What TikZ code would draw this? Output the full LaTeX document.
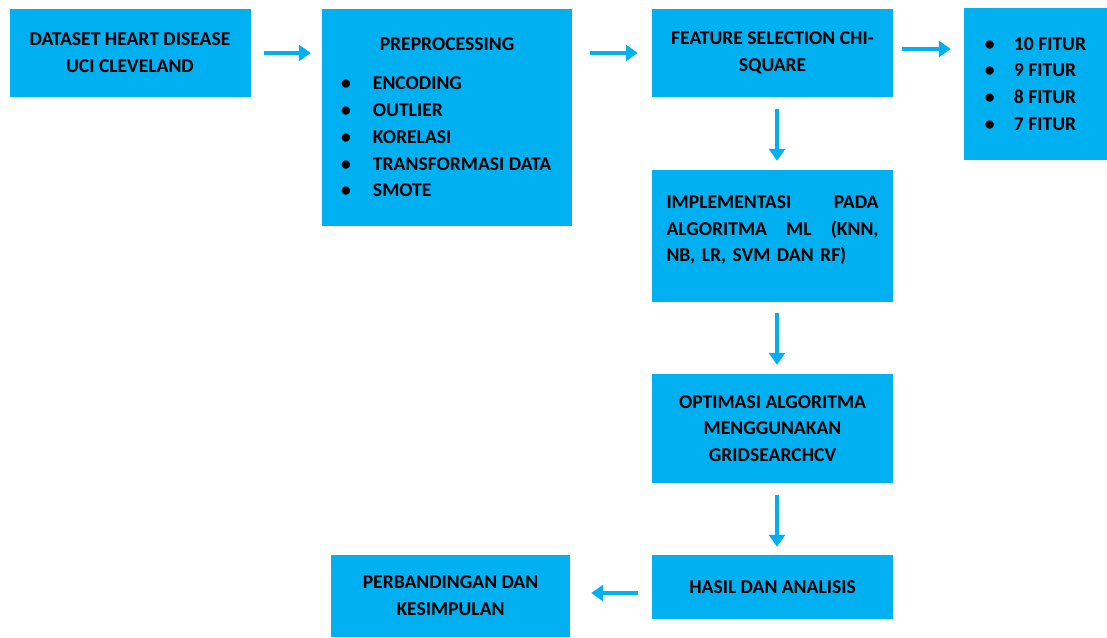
\documentclass[tikz,border=0pt]{standalone}
\usepackage{fontspec}
\setmainfont{Carlito}
\usetikzlibrary{arrows.meta, positioning}
\definecolor{flowBlue}{HTML}{00B0F0}
\newcommand{\itm}[1][32pt]{\makebox[#1][l]{\textbullet}}

\begin{document}
\begin{tikzpicture}[
  x=1pt, y=-1pt,
  box/.style={fill=flowBlue, inner sep=0pt, align=center, minimum width=241pt,
    font=\fontsize{19.6}{26.8}\selectfont\bfseries},
  arr/.style={-{Triangle[length=12pt, width=16pt]}, line width=4pt, draw=flowBlue}
]
\fill[white] (0,0) rectangle (1107,637);
\useasboundingbox (0,0) rectangle (1107,637);
\node[box, minimum height=88pt] (data) at (130,53) {DATASET HEART DISEASE\\UCI CLEVELAND};
\node[box, minimum width=250pt, minimum height=217pt, align=left] (prep) at (447,117.5)
  {\makebox[212pt][c]{PREPROCESSING}\\[12pt]\itm ENCODING\\\itm OUTLIER\\\itm KORELASI\\\itm TRANSFORMASI DATA\\\itm SMOTE};
\node[box, minimum height=88pt] (feat) at (772.5,53) {FEATURE SELECTION CHI-\\SQUARE};
\node[box, minimum width=143pt, minimum height=152pt, align=left] (fitur) at (1035.5,84)
  {\itm[29pt]10 FITUR\\\itm[29pt]9 FITUR\\\itm[29pt]8 FITUR\\\itm[29pt]7 FITUR};
\node[box, minimum height=132pt, text width=212pt, align=left] (impl) at (772.5,236)
  {IMPLEMENTASI\hfill PADA\\ALGORITMA\hfill ML\hfill (KNN,\\NB, LR, SVM DAN RF)\\[-12pt]\mbox{}};
\node[box, minimum height=109pt] (optim) at (772.5,428.5) {OPTIMASI ALGORITMA\\MENGGUNAKAN\\GRIDSEARCHCV};
\node[box, minimum height=64pt] (hasil) at (772.5,587) {HASIL DAN ANALISIS};
\node[box, minimum width=239pt, minimum height=82pt] (banding) at (450.5,596) {PERBANDINGAN DAN\\KESIMPULAN};
% arrows
\draw[arr, shorten <=13pt, shorten >=11pt] (data.east) -- (data.east -| prep.west);
\draw[arr, shorten <=18pt, shorten >=14pt] (prep.east |- feat.west) -- (feat.west);
\draw[arr, shorten <=9pt, shorten >=13pt] ([yshift=4pt]feat.east) -- ([yshift=4pt]feat.east -| fitur.west);
\draw[arr, shorten <=12pt, shorten >=9pt] ([xshift=4.5pt]feat.south) -- ([xshift=4.5pt]impl.north);
\draw[arr, shorten <=11pt, shorten >=9pt] ([xshift=4.5pt]impl.south) -- ([xshift=4.5pt]optim.north);
\draw[arr, shorten <=12pt, shorten >=8pt] ([xshift=4.5pt]optim.south) -- ([xshift=4.5pt]hasil.north);
\draw[arr, shorten <=14pt, shorten >=21pt] ([yshift=-6pt]hasil.west) -- ([yshift=-6pt]hasil.west -| banding.east);
\end{tikzpicture}
\end{document}
